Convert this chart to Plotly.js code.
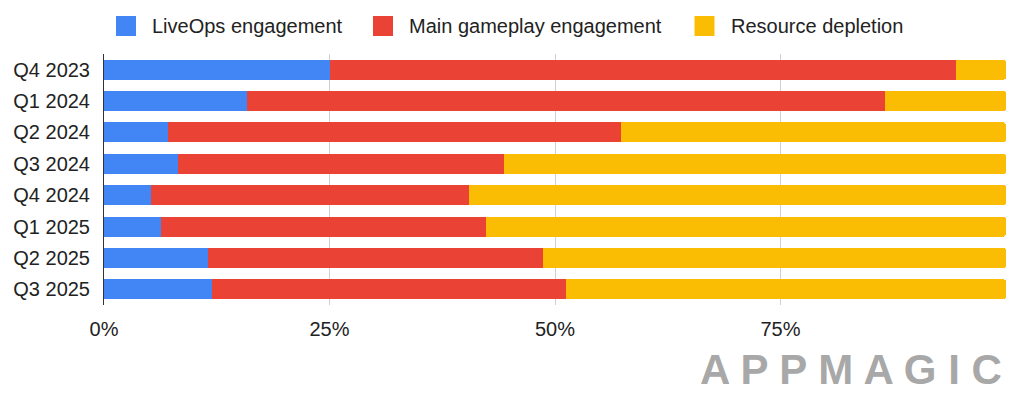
<!DOCTYPE html>
<html><head><meta charset="utf-8">
<script src="https://cdn.plot.ly/plotly-3.0.1.min.js"></script>
<style>html,body{margin:0;padding:0;background:#fff}#chart{width:1024px;height:397px}</style>
</head><body><div id="chart"></div>
<script>
const quarters = ["Q4 2023","Q1 2024","Q2 2024","Q3 2024","Q4 2024","Q1 2025","Q2 2025","Q3 2025"];
const liveOps = [25.0, 15.9, 7.1, 8.2, 5.2, 6.3, 11.5, 12.0];
const mainGameplay = [69.5, 70.7, 50.2, 36.2, 35.3, 36.0, 37.2, 39.2];
const resourceDepletion = [5.5, 13.4, 42.7, 55.6, 59.5, 57.7, 51.3, 48.8];
const seriesNames = ["LiveOps engagement","Main gameplay engagement","Resource depletion"];
const colors = ["#4285F4","#EA4335","#FBBC04"];
const tickVals = [0,25,50,75,100];
const tickText = ["0%","25%","50%","75%",""];

const font = "Liberation Sans, Arial, sans-serif";
const W = 1024, H = 397;
const M = {l:104, r:18, t:54, b:92};
const pw = W - M.l - M.r, ph = H - M.t - M.b;
// pixel -> paper helpers for legend / watermark placement
const px = x => (x - M.l) / pw;
const py = y => (H - M.b - y) / ph;

const data = [liveOps, mainGameplay, resourceDepletion].map((vals,i)=>({
  type:"bar", orientation:"h", y:quarters, x:vals, name:seriesNames[i],
  marker:{color:colors[i], line:{width:0}}, showlegend:false
}));

// custom legend (swatch + label)
const legendSwatchX = [116, 373, 694.5];
const legendTextX = [150, 407, 729];
const legendY = 26;
const shapes = [], annotations = [];
seriesNames.forEach((n,i)=>{
  shapes.push({type:"rect", xref:"paper", yref:"paper",
    x0:px(legendSwatchX[i]), x1:px(legendSwatchX[i]+20), y0:py(legendY-10), y1:py(legendY+10),
    fillcolor:colors[i], line:{width:0}});
  annotations.push({text:n, xref:"paper", yref:"paper", x:px(legendTextX[i]), y:py(legendY),
    xanchor:"left", yanchor:"middle", showarrow:false, font:{family:font, size:20, color:"#222"}});
});
annotations.push({text:"A P P M A G I C", xref:"paper", yref:"paper", x:px(1004), xanchor:"right",
  y:py(369.5), yanchor:"middle", showarrow:false,
  font:{family:"Liberation Sans, Arial, sans-serif", size:42, color:"#a8a8a8", weight:"bold"}});

const layout = {
  width:W, height:H, margin:M,
  barmode:"stack", bargap:0.36, barcornerradius:3,
  paper_bgcolor:"#fff", plot_bgcolor:"#fff",
  font:{family:font, size:20, color:"#222"},
  showlegend:false,
  xaxis:{range:[0,100], tickvals:tickVals, ticktext:tickText, showgrid:true, gridcolor:"#d0d0d0", gridwidth:1,
    zeroline:false, showline:false, ticks:"", ticklabelstandoff:10, tickfont:{size:20, color:"#222"}, fixedrange:true},
  yaxis:{autorange:"reversed", showline:true, linecolor:"#333", linewidth:1, ticks:"",
    ticklabelstandoff:9, tickfont:{size:20, color:"#222"}, showgrid:false, zeroline:false, fixedrange:true},
  shapes:shapes, annotations:annotations
};
Plotly.newPlot("chart", data, layout, {displayModeBar:false, staticPlot:true});
</script></body></html>
